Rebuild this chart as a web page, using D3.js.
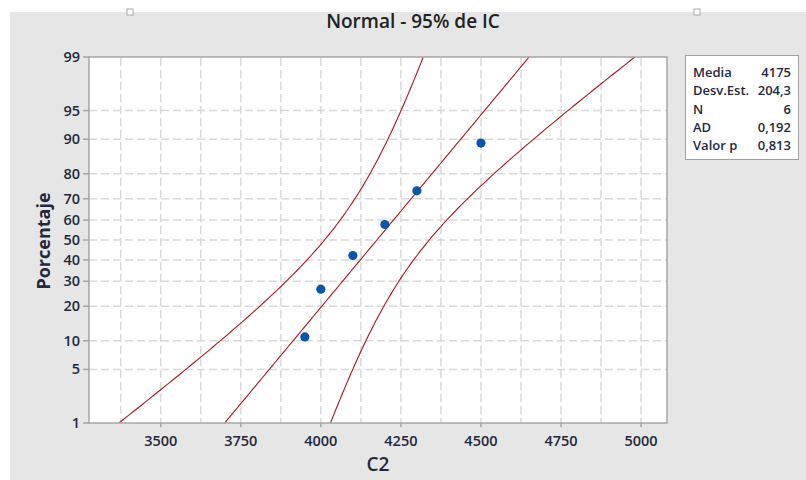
<!DOCTYPE html>
<html>
<head>
<meta charset="utf-8">
<script src="https://cdn.jsdelivr.net/npm/d3@7"></script>
<style>
  html, body { margin: 0; padding: 0; background: #ffffff; }
  svg { display: block; font-family: "Open Sans", "Noto Sans", sans-serif; }
</style>
</head>
<body>
<svg id="chart" width="806" height="480"></svg>
<script>
// ---------------- data ----------------
const title = "Normal - 95% de IC";
const xLabel = "C2";
const yLabel = "Porcentaje";
const sampleValues = [3950, 4000, 4100, 4200, 4300, 4500];
const samplePercents = [10.9, 26.6, 42.2, 57.8, 73.4, 89.1];
const xTicks = [3500, 3750, 4000, 4250, 4500, 4750, 5000];
const xGrid = [3375, 3500, 3625, 3750, 3875, 4000, 4125, 4250, 4375, 4500, 4625, 4750, 4875, 5000];
const yTicks = [1, 5, 10, 20, 30, 40, 50, 60, 70, 80, 90, 95, 99];
const yGrid = [5, 10, 20, 30, 40, 50, 60, 70, 80, 90, 95];
const statLabels = ["Media", "Desv.Est.", "N", "AD", "Valor p"];
const statValues = ["4175", "204,3", "6", "0,192", "0,813"];
const fitMean = [4175];
const fitStd = [204.3];
const fitN = [6];

// ---------------- helpers ----------------
function qnorm(p) {
  const a = [-3.969683028665376e+01, 2.209460984245205e+02, -2.759285104469687e+02, 1.383577518672690e+02, -3.066479806614716e+01, 2.506628277459239e+00];
  const b = [-5.447609879822406e+01, 1.615858368580409e+02, -1.556989798598866e+02, 6.680131188771972e+01, -1.328068155288572e+01];
  const c = [-7.784894002430293e-03, -3.223964580411365e-01, -2.400758277161838e+00, -2.549671500289831e+00, 4.374664141464968e+00, 2.938163982698783e+00];
  const d = [7.784695709041462e-03, 3.224671290700398e-01, 2.445134137142996e+00, 3.754408661907416e+00];
  const plow = 0.02425, phigh = 1 - plow;
  let q, r;
  if (p < plow) {
    q = Math.sqrt(-2 * Math.log(p));
    return (((((c[0]*q+c[1])*q+c[2])*q+c[3])*q+c[4])*q+c[5]) / ((((d[0]*q+d[1])*q+d[2])*q+d[3])*q+1);
  } else if (p <= phigh) {
    q = p - 0.5; r = q * q;
    return (((((a[0]*r+a[1])*r+a[2])*r+a[3])*r+a[4])*r+a[5])*q / (((((b[0]*r+b[1])*r+b[2])*r+b[3])*r+b[4])*r+1);
  } else {
    q = Math.sqrt(-2 * Math.log(1 - p));
    return -(((((c[0]*q+c[1])*q+c[2])*q+c[3])*q+c[4])*q+c[5]) / ((((d[0]*q+d[1])*q+d[2])*q+d[3])*q+1);
  }
}

// ---------------- layout ----------------
const svg = d3.select("#chart");
const plot = { left: 89, top: 57, right: 667, bottom: 423 };
const textColor = "#1f2940";

// background panel
svg.append("rect").attr("x", 10).attr("y", 12).attr("width", 796).attr("height", 468).attr("fill", "#e6e6e6");
// selection handles
[130, 697].forEach(hx => {
  svg.append("rect").attr("x", hx - 3).attr("y", 9).attr("width", 6).attr("height", 6)
    .attr("fill", "#ffffff").attr("stroke", "#a8a8a8").attr("stroke-width", 1);
});

const x = d3.scaleLinear().domain([3276, 5081]).range([plot.left, plot.right]);
const zMax = qnorm(0.99);
const yz = d3.scaleLinear().domain([-zMax, zMax]).range([plot.bottom, plot.top]);
const y = p => yz(qnorm(p / 100));

// plot area
svg.append("rect").attr("x", plot.left).attr("y", plot.top)
  .attr("width", plot.right - plot.left).attr("height", plot.bottom - plot.top).attr("fill", "#ffffff");

// grid
const grid = svg.append("g").attr("stroke", "#d9d9d9").attr("stroke-width", 1.5).attr("stroke-dasharray", "8,4");
grid.selectAll("line.v").data(xGrid).enter().append("line")
  .attr("x1", d => x(d)).attr("x2", d => x(d)).attr("y1", plot.top + 1).attr("y2", plot.bottom);
grid.selectAll("line.h").data(yGrid).enter().append("line")
  .attr("y1", d => y(d)).attr("y2", d => y(d)).attr("x1", plot.left).attr("x2", plot.right);

// clip
svg.append("defs").append("clipPath").attr("id", "clip").append("rect")
  .attr("x", plot.left).attr("y", plot.top).attr("width", plot.right - plot.left).attr("height", plot.bottom - plot.top);

// fitted line & CI
const mu = fitMean[0], s = fitStd[0], n = fitN[0];
const zs = d3.range(0, 121).map(i => -zMax + i * (2 * zMax / 120));
const half = z => 1.96 * s * Math.sqrt(1 / n + z * z / (2 * (n - 1)) * 0.95);
const line = d3.line().x(d => x(d[0])).y(d => yz(d[1]));
const lines = [
  zs.map(z => [mu + s * z, z]),
  zs.map(z => [mu + s * z - half(z), z]),
  zs.map(z => [mu + s * z + half(z), z])
];
svg.append("g").attr("clip-path", "url(#clip)").selectAll("path").data(lines).enter().append("path")
  .attr("d", line).attr("fill", "none").attr("stroke", "#a3191f").attr("stroke-width", 1.1);

// points
svg.append("g").selectAll("circle").data(sampleValues).enter().append("circle")
  .attr("cx", d => x(d)).attr("cy", (d, i) => y(samplePercents[i])).attr("r", 4.6).attr("fill", "#0a56a8");

// frame
svg.append("rect").attr("x", plot.left).attr("y", plot.top)
  .attr("width", plot.right - plot.left).attr("height", plot.bottom - plot.top)
  .attr("fill", "none").attr("stroke", "#a6a6a6").attr("stroke-width", 1.5);

// x axis ticks & labels
const xa = svg.append("g");
xa.selectAll("line").data(xTicks).enter().append("line")
  .attr("x1", d => x(d)).attr("x2", d => x(d)).attr("y1", plot.bottom).attr("y2", plot.bottom + 4)
  .attr("stroke", "#a6a6a6").attr("stroke-width", 1.5);
xa.selectAll("text").data(xTicks).enter().append("text")
  .attr("x", d => x(d)).attr("y", 445.5).attr("text-anchor", "middle")
  .attr("font-size", 14.5).attr("font-weight", 600).attr("fill", textColor).text(d => d);

// y axis ticks & labels
const ya = svg.append("g");
ya.selectAll("line").data(yTicks).enter().append("line")
  .attr("y1", d => y(d)).attr("y2", d => y(d)).attr("x1", plot.left - 6).attr("x2", plot.left)
  .attr("stroke", "#a6a6a6").attr("stroke-width", 1.5);
ya.selectAll("text").data(yTicks).enter().append("text")
  .attr("x", 80).attr("y", d => y(d)).attr("dy", "0.35em").attr("text-anchor", "end")
  .attr("font-size", 14.5).attr("font-weight", 600).attr("fill", textColor).text(d => d);

// titles
svg.append("text").attr("x", 413).attr("y", 28).attr("text-anchor", "middle")
  .attr("font-size", 19).attr("font-weight", 600).attr("fill", "#222222").text(title);
svg.append("text").attr("x", 378).attr("y", 471).attr("text-anchor", "middle")
  .attr("font-size", 19).attr("font-weight", 600).attr("fill", textColor).text(xLabel);
svg.append("text").attr("transform", "translate(50,241) rotate(-90)").attr("text-anchor", "middle")
  .attr("font-size", 18).attr("font-weight", 700).attr("fill", textColor).text(yLabel);

// stats box
const box = svg.append("g");
box.append("rect").attr("x", 685.5).attr("y", 55.5).attr("width", 113).attr("height", 104)
  .attr("fill", "#ffffff").attr("stroke", "#a0a0a0").attr("stroke-width", 1);
box.selectAll("text.l").data(statLabels).enter().append("text")
  .attr("x", 693).attr("y", (d, i) => 77 + i * 18.3)
  .attr("font-size", 13).attr("font-weight", 600).attr("fill", textColor).text(d => d);
box.selectAll("text.v").data(statValues).enter().append("text")
  .attr("x", 791).attr("y", (d, i) => 77 + i * 18.3).attr("text-anchor", "end")
  .attr("font-size", 13).attr("font-weight", 600).attr("fill", textColor).text(d => d);
</script>
</body>
</html>
